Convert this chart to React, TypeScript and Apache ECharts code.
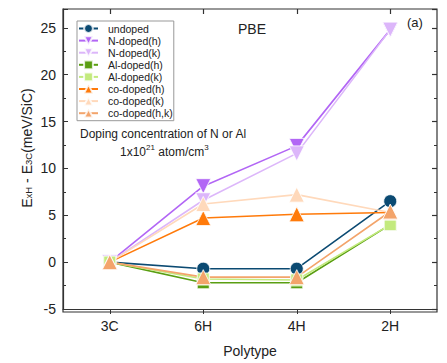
import React, { useEffect, useRef } from "react";
import * as echarts from "echarts";

const categories = ["3C", "6H", "4H", "2H"];
const undoped = [0, -0.7, -0.7, 6.5];
const nDopedH = [0, 8.1, 12.4, 24.8];
const nDopedK = [0, 6.6, 11.6, 24.8];
const alDopedH = [0, -2.2, -2.2, 4.0];
const alDopedK = [0, -1.8, -1.9, 4.0];
const coDopedH = [0, 4.7, 5.1, 5.3];
const coDopedK = [0, 6.2, 7.2, 5.3];
const coDopedHK = [0, -1.6, -1.6, 5.4];
const yTicks = { min: -5, max: 27, interval: 5 };

const seriesDefs = [
  { name: "undoped", data: undoped, color: "#0b4a72", symbol: "circle", size: 13, rotate: 0 },
  { name: "N-doped(h)", data: nDopedH, color: "#b266f5", symbol: "triangle", size: 15, rotate: 180 },
  { name: "N-doped(k)", data: nDopedK, color: "#dcb6fa", symbol: "triangle", size: 15, rotate: 180 },
  { name: "Al-doped(h)", data: alDopedH, color: "#5a9e12", symbol: "rect", size: 12, rotate: 0 },
  { name: "Al-doped(k)", data: alDopedK, color: "#c3ea7e", symbol: "rect", size: 12, rotate: 0 },
  { name: "co-doped(h)", data: coDopedH, color: "#ff7a0a", symbol: "triangle", size: 15, rotate: 0 },
  { name: "co-doped(k)", data: coDopedK, color: "#ffd9bb", symbol: "triangle", size: 15, rotate: 0 },
  { name: "co-doped(h,k)", data: coDopedHK, color: "#f3a46b", symbol: "triangle", size: 15, rotate: 0 },
];

export default function App() {
  const ref = useRef<HTMLDivElement>(null);
  useEffect(() => {
    if (!ref.current) return;
    const chart = echarts.init(ref.current, null, { renderer: "svg" });
    const font = "Liberation Sans, Arial, sans-serif";
    const axisColor = "#333";
    const txt = "#222";
    const yBase = {
      type: "value",
      min: yTicks.min,
      max: yTicks.max,
      interval: yTicks.interval,
      splitLine: { show: false },
    };
    chart.setOption({
      animation: false,
      textStyle: { fontFamily: font },
      grid: { left: 63, right: 10, top: 9, bottom: 51 },
      legend: {
        orient: "vertical",
        left: 77,
        top: 21,
        itemWidth: 19,
        itemHeight: 11,
        itemGap: 1.1,
        padding: [2, 1, 2, 1],
        borderColor: "#999",
        borderWidth: 1,
        textStyle: { fontSize: 10.5, color: txt, fontFamily: font, padding: [0, 0, 0, 5] },
        data: seriesDefs.map((s) => s.name),
      },
      xAxis: [
        {
          type: "category",
          data: categories,
          boundaryGap: true,
          position: "bottom",
          axisLine: { onZero: false, lineStyle: { color: axisColor, width: 1.2 } },
          axisTick: { show: true, inside: false, alignWithLabel: true, length: 5, lineStyle: { color: axisColor } },
          axisLabel: { fontSize: 14, color: txt, margin: 10, fontFamily: font },
          name: "Polytype",
          nameLocation: "middle",
          nameGap: 35,
          nameTextStyle: { fontSize: 14, color: txt, fontFamily: font },
        },
        {
          type: "category",
          data: categories,
          boundaryGap: true,
          position: "top",
          axisLine: { show: false, onZero: false },
          axisTick: { show: true, inside: true, alignWithLabel: true, length: 5, lineStyle: { color: axisColor, width: 1.2 } },
          axisLabel: { show: false },
        },
      ],
      yAxis: [
        {
          ...yBase,
          position: "left",
          axisLine: { show: true, onZero: false, lineStyle: { color: axisColor, width: 1.2 } },
          axisTick: { show: true, inside: true, length: 5, lineStyle: { color: axisColor } },
          minorTick: { show: true, splitNumber: 2, length: 3, lineStyle: { color: axisColor } },
          axisLabel: { fontSize: 14, color: txt, margin: 7, showMaxLabel: false, fontFamily: font },
        },
        {
          ...yBase,
          position: "right",
          axisLine: { show: false, onZero: false },
          axisTick: { show: true, inside: true, length: 5, lineStyle: { color: axisColor, width: 1.2 } },
          minorTick: { show: true, splitNumber: 2, length: 3, lineStyle: { color: axisColor } },
          axisLabel: { show: false },
        },
      ],
      graphic: [
        {
          type: "rect",
          shape: { x: 63, y: 9, width: 374, height: 303 },
          style: { fill: "none", stroke: axisColor, lineWidth: 1.2 },
          silent: true,
          z: 100,
        },
        {
          type: "text",
          x: 25,
          y: 148,
          rotation: Math.PI / 2,
          style: {
            text: "{m|E}{s|xH}{m| - E}{s|3C}{m|(meV/SiC)}",
            align: "center",
            verticalAlign: "middle",
            fontFamily: font,
            rich: {
              m: { fontSize: 14, fill: txt, fontFamily: font, verticalAlign: "bottom", lineHeight: 17 },
              s: { fontSize: 9.5, fill: txt, fontFamily: font, verticalAlign: "bottom", lineHeight: 13 },
            },
          },
        },
        { type: "text", left: 238, top: 22, style: { text: "PBE", fontSize: 14, fill: txt, fontFamily: font } },
        { type: "text", left: 407, top: 16, style: { text: "(a)", fontSize: 13, fill: txt, fontFamily: font } },
        {
          type: "text",
          left: 80,
          top: 128,
          style: { text: "Doping concentration of N or Al", fontSize: 12, fill: txt, fontFamily: font },
        },
        {
          type: "text",
          left: 120,
          top: 143,
          style: {
            text: "{n|1x10}{p|21}{n| atom/cm}{p|3}",
            fontFamily: font,
            rich: {
              n: { fontSize: 12, fill: txt, fontFamily: font, verticalAlign: "bottom", lineHeight: 15 },
              p: { fontSize: 8, fill: txt, fontFamily: font, verticalAlign: "top", lineHeight: 15 },
            },
          },
        },
      ],
      series: seriesDefs.map((s, i) => ({
        name: s.name,
        type: "line",
        xAxisIndex: i % 2,
        yAxisIndex: i % 2,
        data: s.data,
        symbol: s.symbol,
        symbolSize: s.size,
        symbolRotate: s.rotate,
        lineStyle: { color: s.color, width: 1.6 },
        itemStyle: { color: s.color, borderColor: "rgba(255,255,255,0.8)", borderWidth: 1 },
        emphasis: { disabled: true },
      })),
    });
    return () => chart.dispose();
  }, []);
  return <div ref={ref} style={{ position: "absolute", left: 0, top: 0, width: 447, height: 363 }} />;
}
